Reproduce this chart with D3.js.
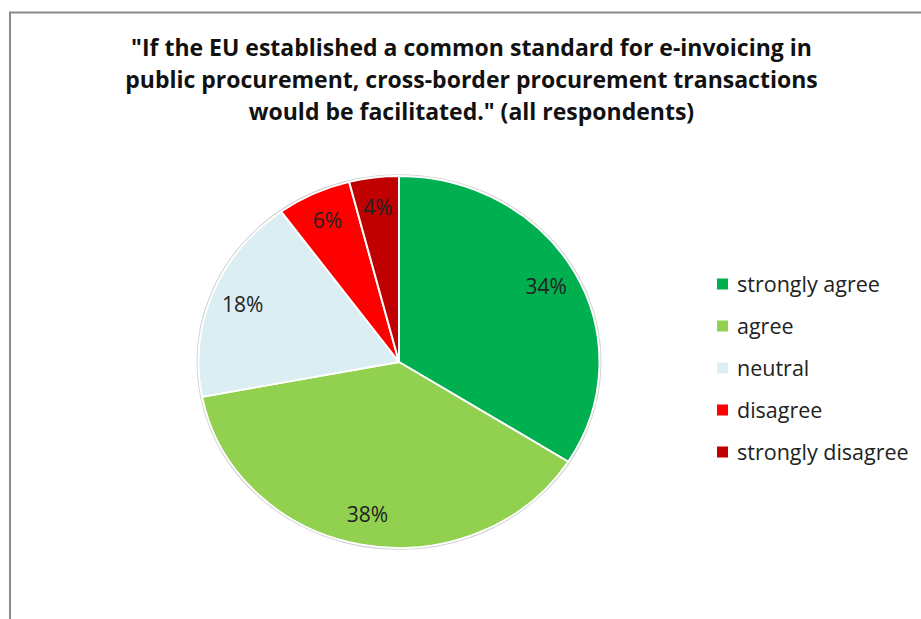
<!DOCTYPE html>
<html>
<head>
<meta charset="utf-8">
<script src="https://cdn.jsdelivr.net/npm/d3@7"></script>
<style>
  html, body { margin: 0; padding: 0; background: #fff; }
  svg { display: block; }
</style>
</head>
<body>
<svg id="chart" width="921" height="619"></svg>
<script>
// Survey answers, share of all respondents (%)
const categories = ["strongly agree", "agree", "neutral", "disagree", "strongly disagree"];
const shares = [34, 38, 18, 6, 4];
const colors = ["#00B050", "#92D050", "#DAEEF3", "#FF0000", "#C00000"];
const titleLines = [
  "\"If the EU established a common standard for e-invoicing in",
  "public procurement, cross-border procurement transactions",
  "would be facilitated.\" (all respondents)"
];

const svg = d3.select("#chart");
const W = 921, H = 619;
const font = "'Open Sans', 'Liberation Sans', sans-serif";

// chart frame
svg.append("path")
  .attr("d", `M10,${H} V12.5 H${W}`)
  .attr("fill", "none")
  .attr("stroke", "#8c8c8c")
  .attr("stroke-width", 2);

// title
const title = svg.append("text")
  .attr("text-anchor", "middle")
  .attr("font-family", font)
  .attr("font-weight", "bold")
  .attr("font-size", 23)
  .attr("fill", "#111");
title.selectAll("tspan").data(titleLines).join("tspan")
  .attr("x", 471.5)
  .attr("y", (d, i) => 56 + i * 32)
  .text(d => d);

// pie
const cx = 399, cy = 362, R = 200.5, yScale = 186 / 200.5;
const color = d3.scaleOrdinal().domain(categories).range(colors);
const pie = d3.pie().sort(null).value(d => d.value);
const arcs = pie(categories.map((c, i) => ({ name: c, value: shares[i] })));
const arc = d3.arc().innerRadius(0).outerRadius(R);
const labelArc = d3.arc().innerRadius(168).outerRadius(168);

const g = svg.append("g").attr("transform", `translate(${cx},${cy}) scale(1,${yScale})`);

// soft rim under the pie
g.append("circle").attr("r", R + 1).attr("fill", "none")
  .attr("stroke", "#d0d0d0").attr("stroke-width", 2);

g.selectAll("path.slice").data(arcs).join("path")
  .attr("class", "slice")
  .attr("d", arc)
  .attr("fill", d => color(d.data.name))
  .attr("stroke", "#fff")
  .attr("stroke-width", 2)
  .attr("stroke-linejoin", "round");

// percentage labels (unscaled text, positioned on the squashed ellipse)
svg.append("g").selectAll("text").data(arcs).join("text")
  .attr("x", d => cx + labelArc.centroid(d)[0])
  .attr("y", d => cy + labelArc.centroid(d)[1] * yScale)
  .attr("dy", "0.35em")
  .attr("text-anchor", "middle")
  .attr("font-family", font)
  .attr("font-size", 21)
  .attr("fill", "#222")
  .text(d => d.data.value + "%");

// legend
const legend = svg.append("g").attr("transform", "translate(717,284)");
const rows = legend.selectAll("g").data(categories).join("g")
  .attr("transform", (d, i) => `translate(0,${i * 42})`);
rows.append("rect")
  .attr("x", 0).attr("y", -5.5).attr("width", 11).attr("height", 11)
  .attr("fill", d => color(d));
rows.append("text")
  .attr("x", 20).attr("dy", "0.35em")
  .attr("font-family", font)
  .attr("font-size", 21.5)
  .attr("fill", "#222")
  .text(d => d);
</script>
</body>
</html>
